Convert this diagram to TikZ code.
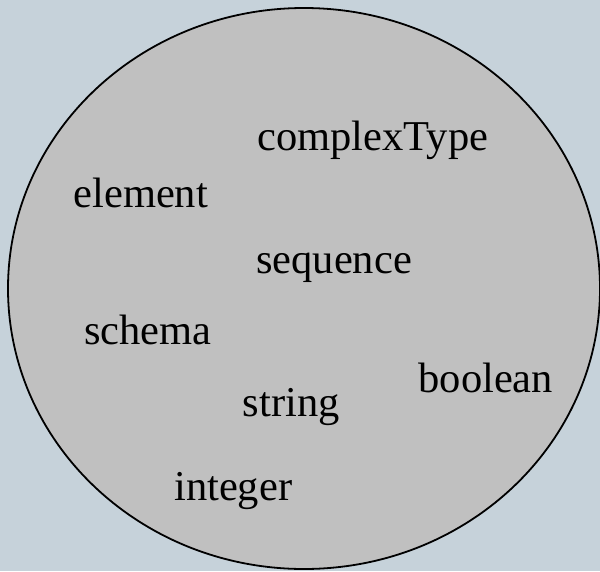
\documentclass[tikz,border=0pt]{standalone}
\usepackage{fontspec}
\setmainfont{Liberation Serif}
\definecolor{bgc}{RGB}{198,210,218}
\definecolor{fillc}{RGB}{192,192,192}
\tikzset{
  lbl/.style={anchor=base west, inner sep=0pt, font=\fontsize{42.5}{50}\selectfont},
  blob/.style={draw=black, line width=1.8pt, fill=fillc}
}
\begin{document}
\begin{tikzpicture}[x=1pt,y=-1pt]
\fill[bgc] (0,0) rectangle (600,571);
\useasboundingbox (0,0) rectangle (600,571);
\draw[blob] (304,288.5) ellipse [x radius=296, y radius=280.5];
\node[lbl] (complexType) at (257.3,150.7) {complexType};
\node[lbl] (element) at (73.3,207.3) {element};
\node[lbl] (sequence) at (256,273.3) {sequence};
\node[lbl] (schema) at (84,344) {schema};
\node[lbl] (boolean) at (418.3,392.7) {boolean};
\node[lbl] (string) at (242.7,416.7) {string};
\node[lbl] (integer) at (174,500.7) {integer};
\end{tikzpicture}
\end{document}
